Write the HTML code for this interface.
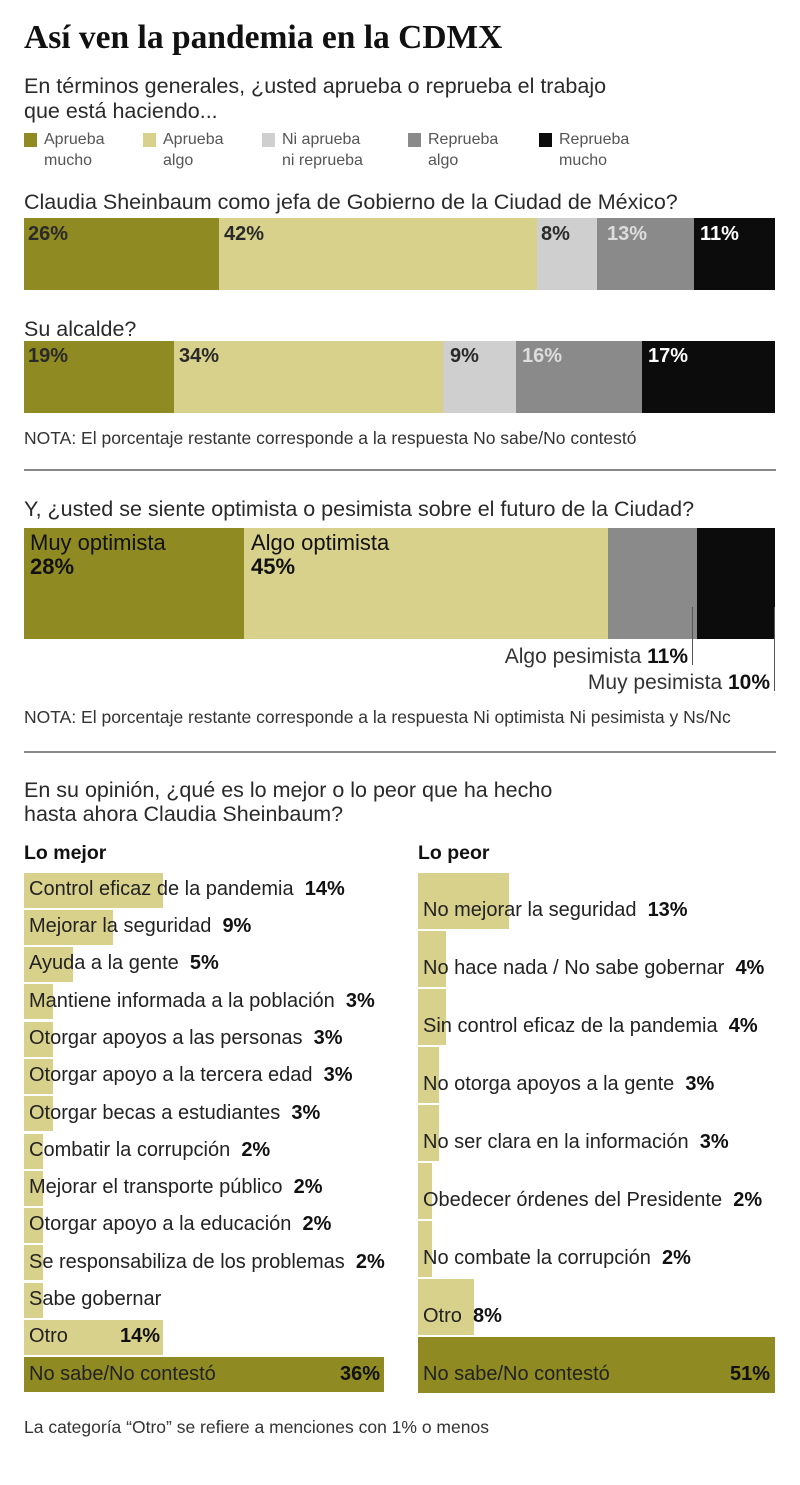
<!DOCTYPE html>
<html><head><meta charset="utf-8"><style>
body{margin:0;background:#fff;}
#c{position:relative;width:800px;height:1485px;overflow:hidden;font-family:"Liberation Sans",sans-serif;color:#2a2a2a;}
.a{position:absolute;white-space:nowrap;}
.t{line-height:24px;}
.b{font-weight:bold;color:#111;}
.r{position:absolute;}
.D{background:#8f8a22;}.L{background:#d8d18c;}.G{background:#cfcfcf;}.M{background:#8a8a8a;}.K{background:#0c0c0c;}
.pl{position:absolute;font-size:20px;font-weight:bold;line-height:22px;}
</style></head><body><div id="c">
<div class="a" style="left:24px;top:19px;font-family:'Liberation Serif',serif;font-weight:bold;font-size:33.5px;color:#111;">Así ven la pandemia en la CDMX</div>
<div class="a t" style="left:24px;top:74px;font-size:21.5px;">En términos generales, ¿usted aprueba o reprueba el trabajo</div>
<div class="a t" style="left:24px;top:99px;font-size:21.5px;">que está haciendo...</div>

<div class="r D" style="left:24px;top:133px;width:13px;height:14px"></div>
<div class="a" style="left:44px;top:129px;font-size:16px;line-height:21px;color:#555">Aprueba<br>mucho</div>
<div class="r L" style="left:143px;top:133px;width:13px;height:14px"></div>
<div class="a" style="left:163px;top:129px;font-size:16px;line-height:21px;color:#555">Aprueba<br>algo</div>
<div class="r G" style="left:262px;top:133px;width:13px;height:14px"></div>
<div class="a" style="left:282px;top:129px;font-size:16px;line-height:21px;color:#555">Ni aprueba<br>ni reprueba</div>
<div class="r M" style="left:408px;top:133px;width:13px;height:14px"></div>
<div class="a" style="left:428px;top:129px;font-size:16px;line-height:21px;color:#555">Reprueba<br>algo</div>
<div class="r K" style="left:539px;top:133px;width:13px;height:14px"></div>
<div class="a" style="left:559px;top:129px;font-size:16px;line-height:21px;color:#555">Reprueba<br>mucho</div>

<div class="a t" style="left:24px;top:190px;font-size:21.5px;">Claudia Sheinbaum como jefa de Gobierno de la Ciudad de México?</div>
<div class="r D" style="left:24px;top:218px;width:195px;height:72px"></div>
<div class="r L" style="left:219px;top:218px;width:318px;height:72px"></div>
<div class="r G" style="left:537px;top:218px;width:60px;height:72px"></div>
<div class="r M" style="left:597px;top:218px;width:97px;height:72px"></div>
<div class="r K" style="left:694px;top:218px;width:81px;height:72px"></div>
<div class="pl" style="left:28px;top:223px">26%</div>
<div class="pl" style="left:224px;top:223px">42%</div>
<div class="pl" style="left:541px;top:223px">8%</div>
<div class="pl" style="left:607px;top:223px;color:#ddd">13%</div>
<div class="pl" style="left:700px;top:223px;color:#fff">11%</div>

<div class="a t" style="left:24px;top:317px;font-size:21.5px;">Su alcalde?</div>
<div class="r D" style="left:24px;top:341px;width:150px;height:72px"></div>
<div class="r L" style="left:174px;top:341px;width:269px;height:72px"></div>
<div class="r G" style="left:443px;top:341px;width:73px;height:72px"></div>
<div class="r M" style="left:516px;top:341px;width:126px;height:72px"></div>
<div class="r K" style="left:642px;top:341px;width:133px;height:72px"></div>
<div class="pl" style="left:28px;top:345px">19%</div>
<div class="pl" style="left:179px;top:345px">34%</div>
<div class="pl" style="left:450px;top:345px">9%</div>
<div class="pl" style="left:522px;top:345px;color:#ddd">16%</div>
<div class="pl" style="left:648px;top:345px;color:#fff">17%</div>
<div class="a" style="left:24px;top:428px;font-size:17.5px;color:#333">NOTA: El porcentaje restante corresponde a la respuesta No sabe/No contestó</div>
<div class="r" style="left:24px;top:469px;width:752px;height:2px;background:#888"></div>

<div class="a t" style="left:24px;top:497px;font-size:21.5px;">Y, ¿usted se siente optimista o pesimista sobre el futuro de la Ciudad?</div>
<div class="r D" style="left:24px;top:528px;width:220px;height:111px"></div>
<div class="r L" style="left:244px;top:528px;width:364px;height:111px"></div>
<div class="r M" style="left:608px;top:528px;width:89px;height:111px"></div>
<div class="r K" style="left:697px;top:528px;width:78px;height:111px"></div>
<div class="a" style="left:30px;top:531px;font-size:22px;line-height:24px;color:#111">Muy optimista<br><b>28%</b></div>
<div class="a" style="left:251px;top:531px;font-size:22px;line-height:24px;color:#111">Algo optimista<br><b>45%</b></div>
<div class="r" style="left:692px;top:607px;width:1px;height:58px;background:#555"></div>
<div class="r" style="left:774px;top:607px;width:1px;height:84px;background:#555"></div>
<div class="a" style="right:112px;top:645px;font-size:21px;color:#333">Algo pesimista <b style="color:#111">11%</b></div>
<div class="a" style="right:30px;top:671px;font-size:21px;color:#333">Muy pesimista <b style="color:#111">10%</b></div>
<div class="a" style="left:24px;top:707px;font-size:17.5px;color:#333">NOTA: El porcentaje restante corresponde a la respuesta Ni optimista Ni pesimista y Ns/Nc</div>
<div class="r" style="left:24px;top:751px;width:752px;height:2px;background:#888"></div>

<div class="a t" style="left:24px;top:778px;font-size:21.5px;">En su opinión, ¿qué es lo mejor o lo peor que ha hecho</div>
<div class="a t" style="left:24px;top:802px;font-size:21.5px;">hasta ahora Claudia Sheinbaum?</div>
<div class="a b" style="left:24px;top:842px;font-size:19.5px;">Lo mejor</div>
<div class="a b" style="left:418px;top:842px;font-size:19.5px;">Lo peor</div>

<div class="a" style="left:24px;top:1417px;font-size:17.5px;color:#333">La categoría “Otro” se refiere a menciones con 1% o menos</div>
</div>
<script>
var L=[["Control eficaz de la pandemia","14%",14],["Mejorar la seguridad","9%",9],["Ayuda a la gente","5%",5],["Mantiene informada a la población","3%",3],["Otorgar apoyos a las personas","3%",3],["Otorgar apoyo a la tercera edad","3%",3],["Otorgar becas a estudiantes","3%",3],["Combatir la corrupción","2%",2],["Mejorar el transporte público","2%",2],["Otorgar apoyo a la educación","2%",2],["Se responsabiliza de los problemas","2%",2],["Sabe gobernar","",2],["Otro","14%",14],["No sabe/No contestó","36%",36]];
var R=[["No mejorar la seguridad","13%",13],["No hace nada / No sabe gobernar","4%",4],["Sin control eficaz de la pandemia","4%",4],["No otorga apoyos a la gente","3%",3],["No ser clara en la información","3%",3],["Obedecer órdenes del Presidente","2%",2],["No combate la corrupción","2%",2],["Otro","8%",8],["No sabe/No contestó","51%",51]];
var cc=document.getElementById('c'),h='';
var y0=873,rh=522/14,fs='font-size:20px';
L.forEach(function(d,i){var y=y0+i*rh,last=i==13;
h+='<div class="r '+(last?'D':'L')+'" style="left:24px;top:'+(y|0)+'px;width:'+(d[2]*10-(last?0:1))+'px;height:'+(rh-2|0)+'px"></div>';
var lab=d[0]+(d[1]&&i!=12&&!last?' &nbsp;<b style="color:#111">'+d[1]+'</b>':'');
h+='<div class="a" style="left:29px;top:'+(y+rh-32|0)+'px;'+fs+';color:#222">'+lab+'</div>';
if(i==12)h+='<div class="a b" style="left:120px;top:'+(y+rh-32|0)+'px;'+fs+'">14%</div>';
if(last)h+='<div class="a b" style="right:420px;top:'+(y+rh-32|0)+'px;'+fs+'">36%</div>';
});
var rr=522/9;
R.forEach(function(d,i){var y=y0+i*rr,last=i==8;
h+='<div class="r '+(last?'D':'L')+'" style="left:418px;top:'+(y|0)+'px;width:'+(d[2]*7)+'px;height:'+(rr-2|0)+'px"></div>';
var lab=d[0]+(!last?' &nbsp;<b style="color:#111">'+d[1]+'</b>':'');
h+='<div class="a" style="left:423px;top:'+(y+rr-32|0)+'px;'+fs+';color:#222">'+lab+'</div>';
if(last)h+='<div class="a b" style="right:30px;top:'+(y+rr-32|0)+'px;'+fs+'">51%</div>';
});
cc.insertAdjacentHTML('beforeend',h);
</script>
</body></html>
